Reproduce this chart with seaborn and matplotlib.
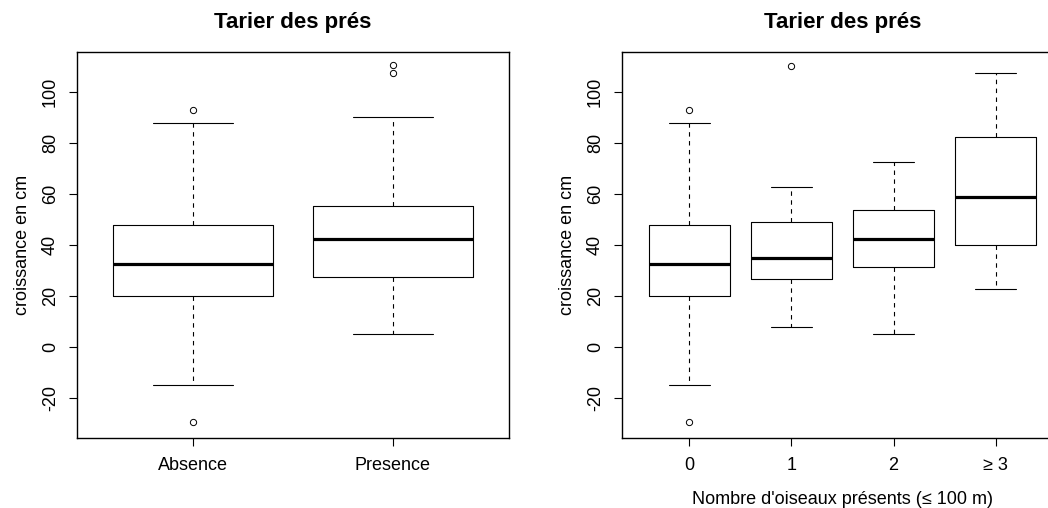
import matplotlib
matplotlib.use("Agg")
import matplotlib.pyplot as plt
import seaborn as sns

sns.set_style("ticks")
plt.rcParams["font.family"] = ["Liberation Sans", "DejaVu Sans"]
plt.rcParams["text.color"] = "black"
plt.rcParams["axes.labelcolor"] = "black"
plt.rcParams["xtick.color"] = "black"
plt.rcParams["ytick.color"] = "black"

# Summary statistics of growth (cm) by presence of the bird
presence_labels = ["Absence", "Presence"]
presence_whislo = [-15.0, 5.2]
presence_q1 = [20.1, 27.5]
presence_med = [32.4, 42.3]
presence_q3 = [47.7, 55.1]
presence_whishi = [87.8, 90.2]
presence_fliers = [[92.6, -29.5], [107.4, 110.4]]

# Summary statistics by number of birds present within 100 m
count_labels = ["0", "1", "2", "\u2265 3"]
count_whislo = [-15.0, 7.7, 5.2, 22.7]
count_q1 = [20.1, 26.4, 31.4, 40.0]
count_med = [32.4, 34.9, 42.3, 58.7]
count_q3 = [47.7, 48.7, 53.5, 82.3]
count_whishi = [87.8, 62.6, 72.4, 107.4]
count_fliers = [[92.6, -29.5], [110.0], [], []]

title = "Tarier des pr\u00e9s"
ylabel = "croissance en cm"
xlabel_right = "Nombre d'oiseaux pr\u00e9sents (\u2264 100 m)"
yticks = [-20, 0, 20, 40, 60, 80, 100]

FS = 13.0


def make_stats(labels, lo, q1, med, q3, hi, fl):
    return [
        dict(label=l, whislo=a, q1=b, med=c, q3=d, whishi=e, fliers=f)
        for l, a, b, c, d, e, f in zip(labels, lo, q1, med, q3, hi, fl)
    ]


def draw_panel(ax, stats, xlabel=None):
    n = len(stats)
    pos = list(range(1, n + 1))
    ax.bxp(
        stats,
        positions=pos,
        widths=0.8,
        capwidths=0.4,
        boxprops=dict(color="black", linewidth=0.8),
        whiskerprops=dict(color="black", linewidth=0.8, linestyle=(0, (4, 4))),
        capprops=dict(color="black", linewidth=0.8),
        medianprops=dict(color="black", linewidth=2.3, solid_capstyle="butt"),
        flierprops=dict(marker="o", markersize=4.5, markerfacecolor="none",
                        markeredgecolor="black", markeredgewidth=0.7),
    )
    ext = 0.04 * n
    ax.set_xlim(0.5 - ext, n + 0.5 + ext)
    ax.set_ylim(-35.6, 115.6)
    ax.set_yticks(yticks)
    ax.set_yticklabels([str(v) for v in yticks], rotation=90, va="center")
    ax.set_xticks(pos)
    ax.set_xticklabels([s["label"] for s in stats])
    ax.tick_params(axis="both", direction="out", length=6, width=0.8,
                   labelsize=FS, color="black")
    ax.tick_params(axis="x", pad=8)
    ax.tick_params(axis="y", pad=7)
    for sp in ax.spines.values():
        sp.set_visible(True)
        sp.set_color("black")
        sp.set_linewidth(1.0)
    ax.set_title(title, fontsize=16, fontweight="bold", pad=17, color="black")
    ax.set_ylabel(ylabel, fontsize=FS, labelpad=8)
    if xlabel:
        ax.set_xlabel(xlabel, fontsize=FS, labelpad=12)
    ax.grid(False)


fig = plt.figure(figsize=(10.48, 5.08), dpi=100)
fig.patch.set_facecolor("white")

ax1 = fig.add_axes([77 / 1048, 70.3 / 508, 432 / 1048, 386 / 508])
ax2 = fig.add_axes([622 / 1048, 70.3 / 508, 441 / 1048, 386 / 508])

draw_panel(ax1, make_stats(presence_labels, presence_whislo, presence_q1,
                           presence_med, presence_q3, presence_whishi,
                           presence_fliers))
draw_panel(ax2, make_stats(count_labels, count_whislo, count_q1, count_med,
                           count_q3, count_whishi, count_fliers),
           xlabel=xlabel_right)

fig.savefig("out.png", dpi=100, facecolor="white")
